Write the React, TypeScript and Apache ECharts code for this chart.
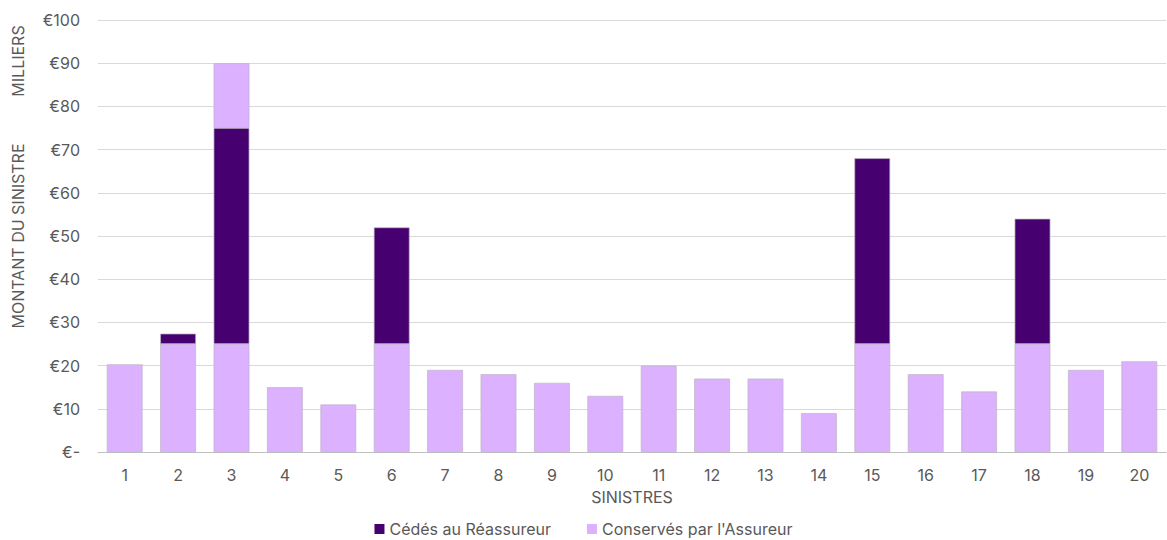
import React, { useEffect, useRef } from "react";
import * as echarts from "echarts";

const categories = ["1","2","3","4","5","6","7","8","9","10","11","12","13","14","15","16","17","18","19","20"];
const retained = [20.3, 25, 25, 15, 11, 25, 19, 18, 16, 13, 20, 17, 17, 9, 25, 18, 14, 25, 19, 21];
const ceded = [null, 2.4, 50, null, null, 27, null, null, null, null, null, null, null, null, 43, null, null, 29, null, null];
const excess = [null, null, 15, null, null, null, null, null, null, null, null, null, null, null, null, null, null, null, null, null];

const DARK = "#47006F";
const LIGHT = "#DCB1FF";
const FONT = "Inter, 'Noto Sans', sans-serif";
const TXT = "#595959";
const FS = 16;

export default function App() {
  const ref = useRef<HTMLDivElement>(null);
  useEffect(() => {
    document.body.style.margin = "0";
    const chart = echarts.init(ref.current!, null, { renderer: "svg" });
    const border = { borderColor: "#bdb5c4", borderWidth: 0.7 };
    chart.setOption({
      animation: false,
      textStyle: { fontFamily: FONT },
      grid: { left: 98, right: 1, top: 20, bottom: 88 },
      legend: {
        data: ["Cédés au Réassureur", "Conservés par l'Assureur"],
        top: 519,
        left: "center",
        padding: [2, 5],
        itemWidth: 10,
        itemHeight: 10,
        itemGap: 36,
        icon: "rect",
        itemStyle: { borderWidth: 0 },
        textStyle: { fontFamily: FONT, fontSize: FS, color: TXT },
      },
      xAxis: {
        type: "category",
        data: categories,
        name: "SINISTRES",
        nameLocation: "middle",
        nameGap: 37,
        nameTextStyle: { fontFamily: FONT, fontSize: FS, color: TXT },
        axisLine: { lineStyle: { color: "#bfbfbf" } },
        axisTick: { show: false },
        axisLabel: { fontFamily: FONT, fontSize: FS, color: TXT, margin: 15 },
      },
      yAxis: {
        type: "value",
        min: 0,
        max: 100,
        interval: 10,
        name: "MONTANT DU SINISTRE",
        nameLocation: "middle",
        nameGap: 72,
        nameTextStyle: { fontFamily: FONT, fontSize: FS, color: TXT },
        axisLine: { show: false },
        axisTick: { show: false },
        splitLine: { lineStyle: { color: "#d9d9d9" } },
        axisLabel: {
          fontFamily: FONT,
          fontSize: FS,
          color: TXT,
          margin: 18,
          formatter: (v: number) => (v === 0 ? "€-" : "€" + v),
        },
      },
      graphic: [
        {
          type: "text",
          x: 18,
          y: 61,
          rotation: Math.PI / 2,
          style: {
            text: "MILLIERS",
            fontFamily: FONT,
            fontSize: FS,
            fill: TXT,
            align: "center",
            verticalAlign: "middle",
          },
        },
      ],
      series: [
        {
          name: "Conservés par l'Assureur",
          type: "bar",
          stack: "total",
          barWidth: "67%",
          data: retained,
          itemStyle: { color: LIGHT, ...border },
        },
        {
          name: "Cédés au Réassureur",
          type: "bar",
          stack: "total",
          data: ceded,
          itemStyle: { color: DARK, ...border },
        },
        {
          name: "Conservés par l'Assureur",
          type: "bar",
          stack: "total",
          data: excess,
          itemStyle: { color: LIGHT, ...border },
        },
      ],
    });
    return () => chart.dispose();
  }, []);
  return <div ref={ref} style={{ width: 1167, height: 540 }} />;
}
